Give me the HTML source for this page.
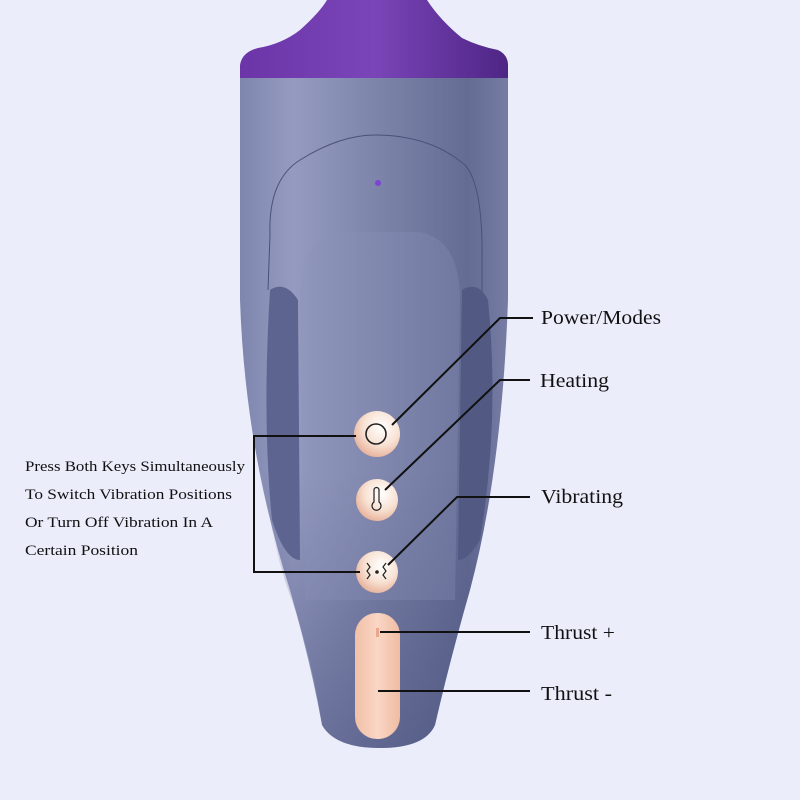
<!DOCTYPE html>
<html><head><style>
body{margin:0;width:800px;height:800px;background:#ecedfb;overflow:hidden}
svg{display:block}
text{font-family:"Liberation Serif",serif;fill:#111}
</style></head><body>
<svg width="800" height="800" viewBox="0 0 800 800">
<defs>
<linearGradient id="bd" x1="0" x2="1" y1="0" y2="0">
<stop offset="0" stop-color="#7f86ae"/><stop offset="0.2" stop-color="#959bc0"/><stop offset="0.5" stop-color="#7e85ab"/><stop offset="0.85" stop-color="#646c94"/><stop offset="1" stop-color="#767ca4"/>
</linearGradient>
<linearGradient id="lw" x1="0" x2="0" y1="0" y2="1">
<stop offset="0" stop-color="#3b4270" stop-opacity="0"/><stop offset="1" stop-color="#3b4270" stop-opacity="0.45"/>
</linearGradient>
<linearGradient id="cap" x1="0" x2="1"><stop offset="0" stop-color="#6b35a8"/><stop offset="0.5" stop-color="#7a45b8"/><stop offset="1" stop-color="#4e2585"/></linearGradient>
<radialGradient id="btn" cx="0.6" cy="0.35" r="0.65"><stop offset="0" stop-color="#fff"/><stop offset="0.6" stop-color="#f8e2d4"/><stop offset="1" stop-color="#eab7a0"/></radialGradient>
<linearGradient id="ov" x1="0" x2="1"><stop offset="0" stop-color="#f1c0a8"/><stop offset="0.5" stop-color="#fad6c4"/><stop offset="1" stop-color="#efbca3"/></linearGradient>
</defs>
<path d="M327 0 L427 0 Q440 20 462 38 Q478 46 498 50 Q508 55 508 65 L508 80 L240 80 L240 65 Q242 52 258 48 Q282 44 300 30 Q320 12 327 0Z" fill="url(#cap)"/>
<path d="M240 78 L508 78 L508 300 Q502 470 470 590 Q450 660 435 725 Q425 748 380 748 Q335 748 322 725 Q310 660 290 590 Q245 450 240 300Z" fill="url(#bd)"/>
<path d="M262 470 Q275 560 292 600 Q312 660 322 725 Q335 748 380 748 Q425 748 435 725 Q450 660 470 590 Q485 530 495 470Z" fill="url(#lw)"/>
<path d="M270 235 Q268 180 300 160 Q340 135 375 135 Q430 135 465 165 Q483 185 482 260 L482 300" fill="none" stroke="#4b5078" stroke-width="1"/>
<path d="M270 235 L268 290" fill="none" stroke="#4b5078" stroke-width="1"/>
<path d="M270 290 Q285 280 298 300 L300 560 Q285 560 272 520 Q262 420 270 290Z" fill="#5d6490"/>
<path d="M462 290 Q478 280 488 300 Q500 420 480 540 Q468 560 458 560Z" fill="#525a84"/>
<path d="M300 300 Q300 240 340 232 L420 232 Q460 240 460 300 L455 600 L305 600Z" fill="#8c93ba" opacity="0.3"/>
<circle cx="378" cy="183" r="3" fill="#7b44d6"/>
<circle cx="377" cy="434" r="23" fill="url(#btn)"/>
<circle cx="376" cy="434" r="10" fill="none" stroke="#222" stroke-width="1.6"/>
<circle cx="377" cy="500" r="21" fill="url(#btn)"/>
<path d="M374 490 a2.5 2.5 0 0 1 5 0 v12 a4.5 4.5 0 1 1 -5 0Z" fill="none" stroke="#222" stroke-width="1.2"/>
<circle cx="377" cy="572" r="21" fill="url(#btn)"/>
<path d="M367 563 l3 4 -3 4 3 4 -3 4 M386 563 l-3 4 3 4 -3 4 3 4" fill="none" stroke="#222" stroke-width="1.2"/>
<circle cx="377" cy="572" r="1.8" fill="#222"/>
<rect x="355" y="613" width="45" height="126" rx="22" fill="url(#ov)"/>
<rect x="376" y="628" width="3" height="9" fill="#e9a88c"/>
<g stroke="#111" stroke-width="2" fill="none">
<polyline points="392,425 500,318 533,318"/>
<polyline points="385,490 500,380 530,380"/>
<polyline points="388,565 457,497 530,497"/>
<polyline points="380,632 530,632"/>
<polyline points="378,691 530,691"/>
<polyline points="356,436 254,436 254,572 360,572"/>
</g>
<text x="541" y="324" font-size="20" textLength="120" lengthAdjust="spacingAndGlyphs">Power/Modes</text>
<text x="540" y="387" font-size="20" textLength="69" lengthAdjust="spacingAndGlyphs">Heating</text>
<text x="541" y="503" font-size="20" textLength="82" lengthAdjust="spacingAndGlyphs">Vibrating</text>
<text x="541" y="639" font-size="20" textLength="74" lengthAdjust="spacingAndGlyphs">Thrust +</text>
<text x="541" y="700" font-size="20" textLength="71" lengthAdjust="spacingAndGlyphs">Thrust -</text>
<g font-size="15">
<text x="25" y="471" textLength="220" lengthAdjust="spacingAndGlyphs">Press Both Keys Simultaneously</text>
<text x="25" y="499" textLength="207" lengthAdjust="spacingAndGlyphs">To Switch Vibration Positions</text>
<text x="25" y="527" textLength="188" lengthAdjust="spacingAndGlyphs">Or Turn Off Vibration In A</text>
<text x="25" y="555" textLength="113" lengthAdjust="spacingAndGlyphs">Certain Position</text>
</g>
</svg>
</body></html>
